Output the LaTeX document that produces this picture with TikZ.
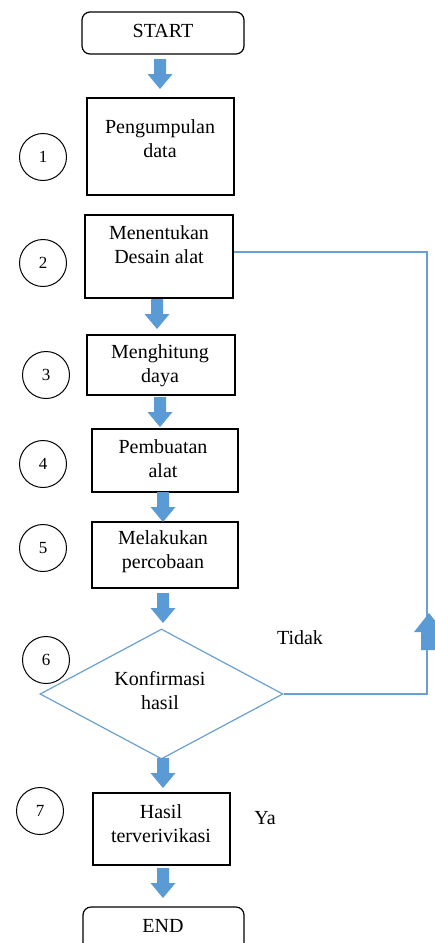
\documentclass[tikz,border=0pt]{standalone}
\usepackage{fontspec}
\setmainfont{Liberation Serif}
\usetikzlibrary{shapes.geometric}
\definecolor{ablue}{HTML}{5B9BD5}
\definecolor{lblue}{HTML}{6A9FD2}
\begin{document}
\begin{tikzpicture}[x=1pt,y=-1pt,
  font=\fontsize{20}{24}\selectfont,
  box/.style={draw, line width=1.2pt, inner sep=0pt},
  rbox/.style={box, rounded corners=8pt},
  txt/.style={align=center, inner sep=0pt},
  num/.style={draw, circle, line width=1pt, minimum size=47pt, inner sep=0pt, font=\fontsize{17}{20}\selectfont},
  downarr/.pic={\fill[ablue] (-6,0) -- (6,0) -- (6,15) -- (12.5,15) -- (0,30) -- (-12.5,15) -- (-6,15) -- cycle;},
  uparr/.pic={\fill[ablue] (-8,0) -- (8,0) -- (8,-18) -- (15,-18) -- (0,-37) -- (-15,-18) -- (-8,-18) -- cycle;}
]
\useasboundingbox (0,0) rectangle (435,943);
\clip (0,0) rectangle (435,943);

% boxes
\node[rbox, minimum width=162pt, minimum height=42pt] (start) at (163,33) {};
\node[txt] (tstart) at (163,31) {START};

\node[box, minimum width=147pt, minimum height=97pt] (b1) at (160.5,146.5) {};
\node[txt] (t1) at (160,139) {Pengumpulan\\data};

\node[box, minimum width=148pt, minimum height=83pt] (b2) at (159,256.5) {};
\node[txt] (t2) at (159,245) {Menentukan\\Desain alat};

\node[box, minimum width=148pt, minimum height=60pt] (b3) at (161,365) {};
\node[txt] (t3) at (160,366) {Menghitung\\daya};

\node[box, minimum width=146pt, minimum height=63pt] (b4) at (165,460.5) {};
\node[txt] (t4) at (163,459) {Pembuatan\\alat};

\node[box, minimum width=146pt, minimum height=66pt] (b5) at (165,555) {};
\node[txt] (t5) at (163,552) {Melakukan\\percobaan};

\node[draw=lblue, line width=1.2pt, diamond, minimum width=243pt, minimum height=130pt, inner sep=0pt] (d6) at (161.5,694) {};
\node[txt] (t6) at (160,691) {Konfirmasi\\hasil};

\node[box, minimum width=137pt, minimum height=72pt] (b7) at (161.5,829) {};
\node[txt] (t7) at (161,824) {Hasil\\terverivikasi};

\node[rbox, minimum width=161pt, minimum height=44pt] (end) at (163.5,929) {};
\node[txt] (tend) at (163,926) {END};

% labels
\node[txt] (tidak) at (300,638) {Tidak};
\node[txt] (ya) at (265,818) {Ya};

% numbers
\node[num] (n1) at (43,157) {1};
\node[num] (n2) at (43,263) {2};
\node[num] (n3) at (46,375) {3};
\node[num] (n4) at (43,464) {4};
\node[num] (n5) at (43,548) {5};
\node[num] (n6) at (46,660) {6};
\node[num] (n7) at (40,811) {7};

% block arrows
\pic at (160,59) {downarr};
\pic at (157,299) {downarr};
\pic at (160,397) {downarr};
\pic at (163,492) {downarr};
\pic at (163,593) {downarr};
\pic at (163,758) {downarr};
\pic at (163,868) {downarr};

% feedback loop
\coordinate (c2) at (427,252);
\draw[lblue, line width=1.2pt] (d6.east) -- (d6.east -| c2) -- (c2) -- (b2.east |- c2);
\pic at (429,650) {uparr};
\end{tikzpicture}
\end{document}
